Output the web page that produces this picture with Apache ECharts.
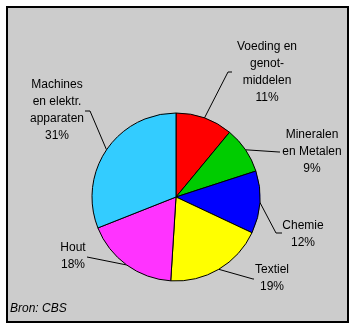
<!DOCTYPE html>
<html>
<head>
<meta charset="utf-8">
<script src="https://cdn.jsdelivr.net/npm/echarts@6/dist/echarts.min.js"></script>
<style>html,body{margin:0;padding:0;background:#fff}#c{width:356px;height:327px}</style>
</head>
<body>
<div id="c"></div>
<script>
// Data
var categories = ['Voeding en\ngenot-\nmiddelen', 'Mineralen\nen Metalen', 'Chemie', 'Textiel', 'Hout', 'Machines\nen elektr.\napparaten'];
var shares = [11, 9, 12, 19, 18, 31];
var source = 'Bron: CBS';

// Styling / layout (not data)
var colors = ['#ff0000', '#00cc00', '#0000ff', '#ffff00', '#ff33ff', '#33ccff'];
var labelCenters = [[267, 72], [312, 152], [303, 234.5], [272, 278.5], [73, 256.5], [57, 110]];
var leaderElbows = [[228, 72], [279, 152], [276, 233], [253, 279], [87, 257], [90, 111]];
var leaderEnds = [[232, 72], [280, 152], [282, 233], [254, 279], [87, 257], [85, 111]];

var chart = echarts.init(document.getElementById('c'), null, {renderer: 'canvas'});
var data = categories.map(function (c, i) {
  return {name: c, value: shares[i], itemStyle: {color: colors[i]}};
});
chart.setOption({
  backgroundColor: '#ffffff',
  animation: false,
  graphic: [{
    type: 'rect', z: 0,
    shape: {x: 7, y: 7, width: 341, height: 315},
    style: {fill: '#cccccc', stroke: '#000000', lineWidth: 2}
  }],
  title: {
    text: source, left: 5, top: 298,
    textStyle: {fontFamily: 'Liberation Sans, Arial', fontSize: 12, fontStyle: 'italic', fontWeight: 'normal', color: '#000'}
  },
  series: [{
    type: 'pie',
    center: [176, 197],
    radius: 84,
    startAngle: 90,
    clockwise: true,
    data: data,
    itemStyle: {borderColor: '#000', borderWidth: 1},
    emphasis: {disabled: true},
    label: {
      show: true, position: 'outside', overflow: 'none',
      color: '#000', fontFamily: 'Liberation Sans, Arial', fontSize: 12, lineHeight: 17,
      align: 'center',
      formatter: function (p) { return p.name + '\n' + p.value + '%'; }
    },
    labelLine: {show: true, lineStyle: {color: '#000', width: 1}, smooth: false},
    labelLayout: function (p) {
      var i = p.dataIndex;
      var start = p.labelLinePoints ? p.labelLinePoints[0] : leaderElbows[i];
      return {
        x: labelCenters[i][0], y: labelCenters[i][1],
        align: 'center', verticalAlign: 'middle',
        labelLinePoints: [start, leaderElbows[i], leaderEnds[i]]
      };
    }
  }]
});
</script>
</body>
</html>
